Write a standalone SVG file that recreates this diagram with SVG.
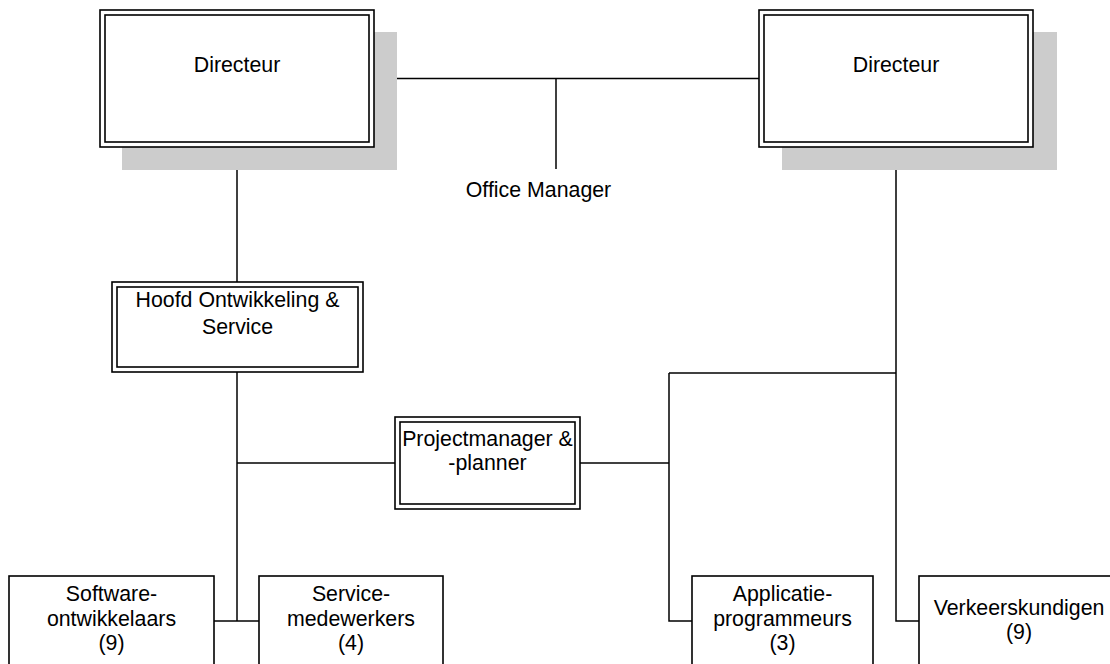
<svg xmlns="http://www.w3.org/2000/svg" width="1110" height="664" viewBox="0 0 1110 664">
  <style>
    .bg { fill: #ffffff; }
    .shadow { fill: #cccccc; stroke: none; }
    .box { fill: #ffffff; stroke: #000000; stroke-width: 1.6; }
    .inner { fill: none; stroke: #000000; stroke-width: 1.6; }
    .conn { fill: none; stroke: #000000; stroke-width: 1.5; }
    text { font-family: "Liberation Sans", Arial, sans-serif; font-size: 21.33px; fill: #000000; text-anchor: middle; }
  </style>
  <rect class="bg" x="0" y="0" width="1110" height="664"/>

  <!-- connectors -->
  <g id="connectors">
    <line class="conn" x1="374" y1="78.5" x2="759" y2="78.5"/>
    <line class="conn" x1="556" y1="78.5" x2="556" y2="169"/>
    <line class="conn" x1="237" y1="147" x2="237" y2="282"/>
    <line class="conn" x1="237" y1="372" x2="237" y2="621"/>
    <line class="conn" x1="214" y1="621" x2="259" y2="621"/>
    <line class="conn" x1="237" y1="463" x2="395" y2="463"/>
    <line class="conn" x1="580" y1="463" x2="669" y2="463"/>
    <polyline class="conn" points="896,147 896,621 919,621"/>
    <line class="conn" x1="669" y1="373" x2="896" y2="373"/>
    <polyline class="conn" points="669,373 669,621 692,621"/>
  </g>

  <!-- left director -->
  <g id="directeur-1">
    <rect class="shadow" x="122" y="32" width="275" height="138"/>
    <rect class="box" x="100" y="10" width="274" height="137"/>
    <rect class="inner" x="105" y="15" width="264" height="127"/>
    <text x="237" y="72">Directeur</text>
  </g>

  <!-- right director -->
  <g id="directeur-2">
    <rect class="shadow" x="782" y="32" width="275" height="138"/>
    <rect class="box" x="759" y="10" width="274" height="137"/>
    <rect class="inner" x="764" y="15" width="264" height="127"/>
    <text x="896" y="72">Directeur</text>
  </g>

  <g id="office-manager">
    <text x="538.5" y="197">Office Manager</text>
  </g>

  <g id="hoofd-ontwikkeling">
    <rect class="box" x="112" y="282" width="251" height="90"/>
    <rect class="inner" x="117" y="287" width="241" height="80"/>
    <text x="237.5" y="307">Hoofd Ontwikkeling &amp;</text>
    <text x="237.5" y="334">Service</text>
  </g>

  <g id="projectmanager">
    <rect class="box" x="395" y="417" width="185" height="92"/>
    <rect class="inner" x="400" y="422" width="175" height="82"/>
    <text x="487.5" y="446">Projectmanager &amp;</text>
    <text x="487.5" y="470">-planner</text>
  </g>

  <g id="softwareontwikkelaars">
    <rect class="box" x="9" y="576" width="205" height="100"/>
    <text x="111.5" y="601">Software-</text>
    <text x="111.5" y="625.5">ontwikkelaars</text>
    <text x="111.5" y="650">(9)</text>
  </g>

  <g id="servicemedewerkers">
    <rect class="box" x="259" y="576" width="184" height="100"/>
    <text x="351" y="601">Service-</text>
    <text x="351" y="625.5">medewerkers</text>
    <text x="351" y="650">(4)</text>
  </g>

  <g id="applicatieprogrammeurs">
    <rect class="box" x="692" y="576" width="181" height="100"/>
    <text x="782.5" y="601">Applicatie-</text>
    <text x="782.5" y="625.5">programmeurs</text>
    <text x="782.5" y="650">(3)</text>
  </g>

  <g id="verkeerskundigen">
    <rect class="box" x="919" y="576" width="202" height="100"/>
    <text x="1019" y="615">Verkeerskundigen</text>
    <text x="1019" y="639">(9)</text>
  </g>
</svg>
